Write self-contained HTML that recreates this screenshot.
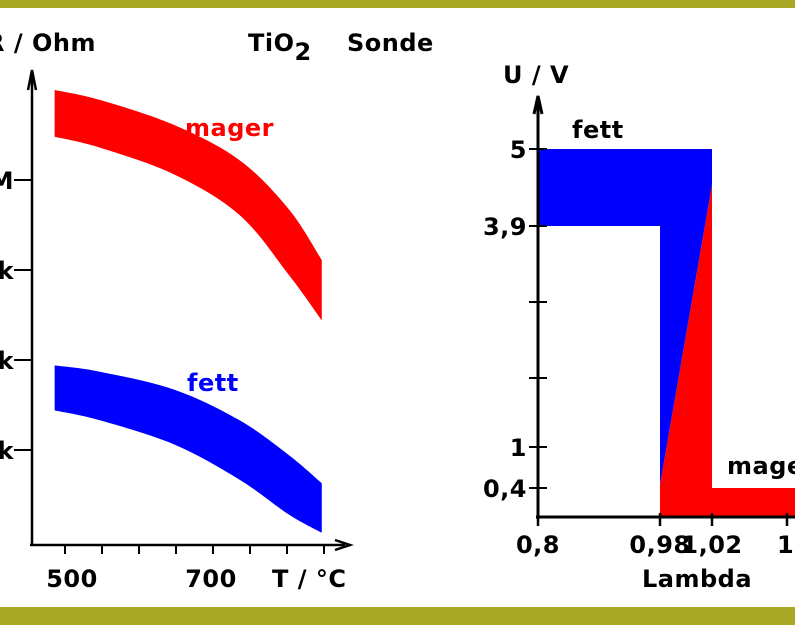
<!DOCTYPE html>
<html><head><meta charset="utf-8"><style>
html,body{margin:0;padding:0;background:#fff}
svg{display:block}
text{font-family:"DejaVu Sans","Liberation Sans",sans-serif;font-weight:bold;letter-spacing:0.5px}
</style></head><body>
<svg id="c" width="795" height="625" viewBox="0 0 795 625">
<rect x="0" y="0" width="795" height="8" fill="#a8a824"/>
<rect x="0" y="607" width="795" height="18" fill="#a8a824"/>
<g id="left"></g>
<g id="right"></g>
<text x="-14" y="51" font-size="24">R / Ohm</text>
<text x="248" y="51" font-size="24">TiO<tspan dy="9">2</tspan><tspan x="347" dy="-9">Sonde</tspan></text>
</svg>
<script>
// Left chart data (log10 of R in Ohm vs temperature in °C)
const temps = [486, 547, 648, 736, 803, 847];
const magerTop = [7.0, 6.89, 6.61, 6.22, 5.67, 5.11];
const magerBottom = [6.48, 6.36, 6.06, 5.61, 4.94, 4.44];
const fettTop = [3.94, 3.87, 3.67, 3.33, 2.94, 2.63];
const fettBottom = [3.44, 3.33, 3.06, 2.67, 2.28, 2.08];
const rTickVals = [3, 4, 5, 6];
const rTickLabels = ["1k", "10k", "100k", "1M"];
const tTickVals = [500, 550, 600, 650, 700, 750, 800, 850];
const tTickLabels = {500: "500", 700: "700"};
// Right chart data (U in V vs lambda)
const uTickVals = [0.4, 1, 2, 3, 3.9, 5];
const uTickLabels = ["0,4", "1", "", "", "3,9", "5"];
const lTickVals = [0.8, 0.98, 1.02, 1.2];
const lTickLabels = ["0,8", "0,98", "1,02", "1,2"];
const fettLambda = [0.8, 1.02, 1.02, 0.98, 0.98, 0.8];
const fettU = [5, 5, 4.49, 0.45, 3.9, 3.9];
const magerLambda = [1.02, 1.02, 1.3, 1.3, 0.98, 0.98];
const magerU = [4.49, 0.4, 0.4, 0, 0, 0.45];

const NS = "http://www.w3.org/2000/svg";
function mk(parent, tag, attrs, txt) {
  const e = document.createElementNS(NS, tag);
  for (const k in attrs) e.setAttribute(k, attrs[k]);
  if (txt !== undefined) e.textContent = txt;
  parent.appendChild(e);
  return e;
}
function interp(v, d, p) {
  for (let i = 0; i < d.length - 1; i++) {
    if (v <= d[i + 1] || i === d.length - 2) {
      return p[i] + (v - d[i]) / (d[i + 1] - d[i]) * (p[i + 1] - p[i]);
    }
  }
}
function smooth(pts) {
  let d = "";
  for (let i = 0; i < pts.length - 1; i++) {
    const p0 = pts[Math.max(0, i - 1)], p1 = pts[i], p2 = pts[i + 1], p3 = pts[Math.min(pts.length - 1, i + 2)];
    const c1 = [p1[0] + (p2[0] - p0[0]) / 6, p1[1] + (p2[1] - p0[1]) / 6];
    const c2 = [p2[0] - (p3[0] - p1[0]) / 6, p2[1] - (p3[1] - p1[1]) / 6];
    d += " C" + c1 + " " + c2 + " " + p2;
  }
  return d;
}
// Left axes
const xT = t => 65 + (t - 500) * 0.74;
const yR = r => 450 - (r - 3) * 90;
const L = document.getElementById("left");
function band(top, bot, color, name) {
  const tp = temps.map((t, i) => [xT(t), yR(top[i])]);
  const bp = temps.map((t, i) => [xT(t), yR(bot[i])]).reverse();
  const d = "M" + tp[0] + smooth(tp) + " L" + bp[0] + smooth(bp) + " Z";
  const p = mk(L, "path", {d: d, fill: color});
  
  
}
band(magerTop, magerBottom, "#ff0000", "mager-band");
band(fettTop, fettBottom, "#0000ff", "fett-band");
const ax1 = mk(L, "path", {d: "M32,545 V72 M28,90 L32,70 L36,90 M30,545 H345 M335,540 L350,545 L335,550", stroke: "#000", "stroke-width": 2.5, fill: "none"});


rTickVals.forEach((v, i) => {
  const t = mk(L, "line", {x1: 14, x2: 33, y1: yR(v), y2: yR(v), stroke: "#000", "stroke-width": 2});
  
  
  const l = mk(L, "text", {x: 14, y: yR(v) + 9, "font-size": 24, "text-anchor": "end"}, rTickLabels[i]);
  
  
});
tTickVals.forEach(v => {
  const t = mk(L, "line", {x1: xT(v), x2: xT(v), y1: 545, y2: 554, stroke: "#000", "stroke-width": 2});
  
  
  if (tTickLabels[v]) {
    const l = mk(L, "text", {x: xT(v) + (v === 700 ? -2 : 7), y: 587, "font-size": 24, "text-anchor": "middle"}, tTickLabels[v]);
    
    
  }
});
let tx = mk(L, "text", {x: 272, y: 587, "font-size": 24}, "T / °C");


tx = mk(L, "text", {x: 185, y: 136, "font-size": 24, fill: "#ff0000"}, "mager");


tx = mk(L, "text", {x: 187, y: 391, "font-size": 24, fill: "#0000ff"}, "fett");



// Right axes (piecewise scales matching drawn tick spacing)
const uD = [0, 0.4, 1, 3.9, 5], uP = [517, 488, 447, 226, 149];
const lD = [0.8, 0.98, 1.02, 1.2, 1.3], lP = [538, 660, 712, 787, 830];
const yU = u => interp(u, uD, uP);
const xL = l => interp(l, lD, lP);
const R = document.getElementById("right");
function poly(xs, ys, color, name) {
  const p = mk(R, "polygon", {points: xs.map((x, i) => xL(x) + "," + yU(ys[i])).join(" "), fill: color});
  
  
}
poly(magerLambda, magerU, "#ff0000", "mager-region");
poly(fettLambda, fettU, "#0000ff", "fett-region");
const gridU = [2, 3];
const ax2 = mk(R, "path", {d: "M538,519 V98 M534,114 L538,96 L542,114 M536,517 H800", stroke: "#000", "stroke-width": 3, fill: "none"});


const extraTickPix = [302, 378];
uTickVals.forEach((v, i) => {
  const y = uTickLabels[i] === "" ? extraTickPix[gridU.indexOf(v)] : yU(v);
  const t = mk(R, "line", {x1: 529, x2: 547, y1: y, y2: y, stroke: "#000", "stroke-width": 2});
  
  
  if (uTickLabels[i]) {
    const l = mk(R, "text", {x: 527, y: y + 9, "font-size": 24, "text-anchor": "end"}, uTickLabels[i]);
    
    
  }
});
lTickVals.forEach((v, i) => {
  const t = mk(R, "line", {x1: xL(v), x2: xL(v), y1: 513, y2: 526, stroke: "#000", "stroke-width": 2.5});
  
  
  const l = mk(R, "text", {x: xL(v) + (i === 3 ? 12 : 0), y: 553, "font-size": 24, "text-anchor": "middle"}, lTickLabels[i]);
  
  
});
tx = mk(R, "text", {x: 697, y: 587, "font-size": 24, "text-anchor": "middle"}, "Lambda");


tx = mk(R, "text", {x: 503, y: 83, "font-size": 24}, "U / V");


tx = mk(R, "text", {x: 572, y: 138, "font-size": 24}, "fett");


tx = mk(R, "text", {x: 727, y: 474, "font-size": 24}, "mager");


</script>
</body></html>
